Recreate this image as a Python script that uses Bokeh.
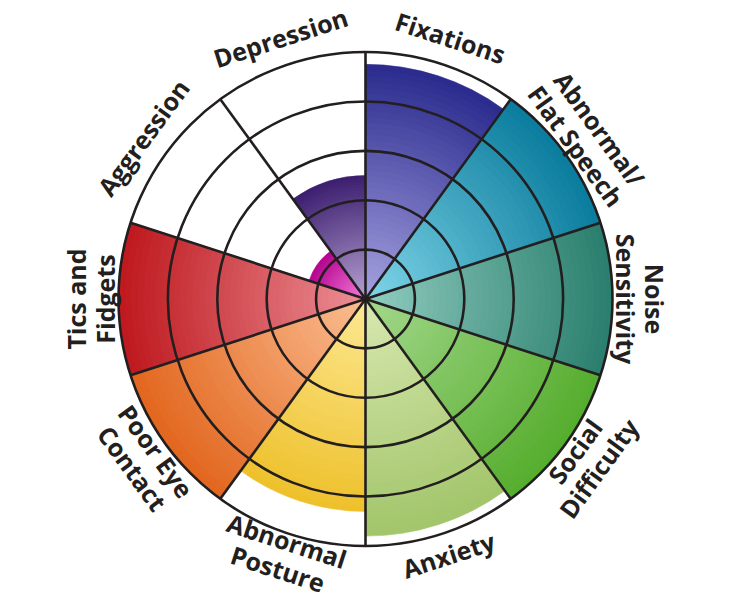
import numpy as np
from bokeh.plotting import figure
from bokeh.models import ColumnDataSource
from bokeh.core.properties import value
from bokeh.embed import file_html
from bokeh.resources import INLINE

# ---- data ----
categories = ["Fixations", "Abnormal/\nFlat Speech", "Noise\nSensitivity", "Social\nDifficulty",
              "Anxiety", "Abnormal\nPosture", "Poor Eye\nContact", "Tics and\nFidgets",
              "Aggression", "Depression"]
scores = [4.75, 5.0, 5.0, 5.0, 4.8, 4.3, 5.0, 5.0, 1.2, 2.5]
max_score = 5
rings = [1, 2, 3, 4, 5]

# ---- style ----
inner_colors = ["#A6A3E0", "#80D5E8", "#90CDC0", "#A4D88C", "#D8E8B0", "#FDE893",
                "#FBBE92", "#EC9098", "#F67FDC", "#B6A2D2"]
outer_colors = ["#2A2A8E", "#0A7C9D", "#2A7E6D", "#55AD2D", "#A2C56A", "#EEC12B",
                "#E2661E", "#BE181D", "#B4048E", "#3C1E6F"]
INK = "#231F20"
UNIT = 49.4          # pixels per score unit
W, H = 732, 600
CX, CY = 365, 298.5  # centre in figure pixels
N_BANDS = 40

def hex2rgb(h):
    h = h.lstrip("#")
    return np.array([int(h[i:i + 2], 16) for i in (0, 2, 4)], dtype=float)

def rgb2hex(c):
    return "#%02x%02x%02x" % tuple(int(round(v)) for v in c)

p = figure(width=W, height=H, output_backend="svg", toolbar_location=None,
           x_range=(-CX / UNIT, (W - CX) / UNIT),
           y_range=(-(H - CY) / UNIT, CY / UNIT),
           min_border=0)
p.axis.visible = False
p.grid.visible = False
p.outline_line_color = None
p.background_fill_color = "white"

n = len(categories)
step = 360.0 / n

# gradient-filled sectors: stacked wedges drawn from outside in
xs, ys, rs, sa, ea, cols = [], [], [], [], [], []
for i, (s, ci, co) in enumerate(zip(scores, inner_colors, outer_colors)):
    cin, cout = hex2rgb(ci), hex2rgb(co)
    start = np.deg2rad(90 - step * (i + 1))
    end = np.deg2rad(90 - step * i)
    for k in range(N_BANDS, 0, -1):
        t = (k - 0.5) / N_BANDS
        xs.append(0); ys.append(0)
        rs.append(s * k / N_BANDS)
        sa.append(start); ea.append(end)
        cols.append(rgb2hex(cin + (cout - cin) * t))
src = ColumnDataSource(dict(x=xs, y=ys, r=rs, sa=sa, ea=ea, c=cols))
p.wedge(x="x", y="y", radius="r", start_angle="sa", end_angle="ea", source=src,
        fill_color="c", line_color="c", line_width=0.6)

# grid rings
p.circle(x=[0] * len(rings), y=[0] * len(rings), radius=rings,
         fill_color=None, line_color=INK, line_width=2.6)

# spokes
ang = np.deg2rad(np.arange(n) * step)
p.segment(x0=np.zeros(n), y0=np.zeros(n),
          x1=max_score * np.sin(ang), y1=max_score * np.cos(ang),
          line_color=INK, line_width=2.6)

# labels, tangential
lx, ly, rot = [], [], []
for i in range(n):
    th = step * i + step / 2
    c = np.cos(np.deg2rad(th))
    if th <= 90 or th >= 270:
        signed = th if th <= 90 else th - 360
        rot.append(np.deg2rad(-signed))
        lab_r = 275 / UNIT
    else:
        rot.append(np.deg2rad(180 - th))
        lab_r = (276 - 8 * c * c) / UNIT
    lx.append(lab_r * np.sin(np.deg2rad(th)))
    ly.append(lab_r * c)
lsrc = ColumnDataSource(dict(x=lx, y=ly, t=categories, a=rot))
p.text(x="x", y="y", text="t", angle="a", source=lsrc,
       text_font=value("Open Sans"), text_font_style="bold",
       text_font_size="25px", text_color=INK, text_align="center",
       text_baseline="middle", text_line_height=0.86)

open("out.html", "w").write(file_html(p, INLINE))
